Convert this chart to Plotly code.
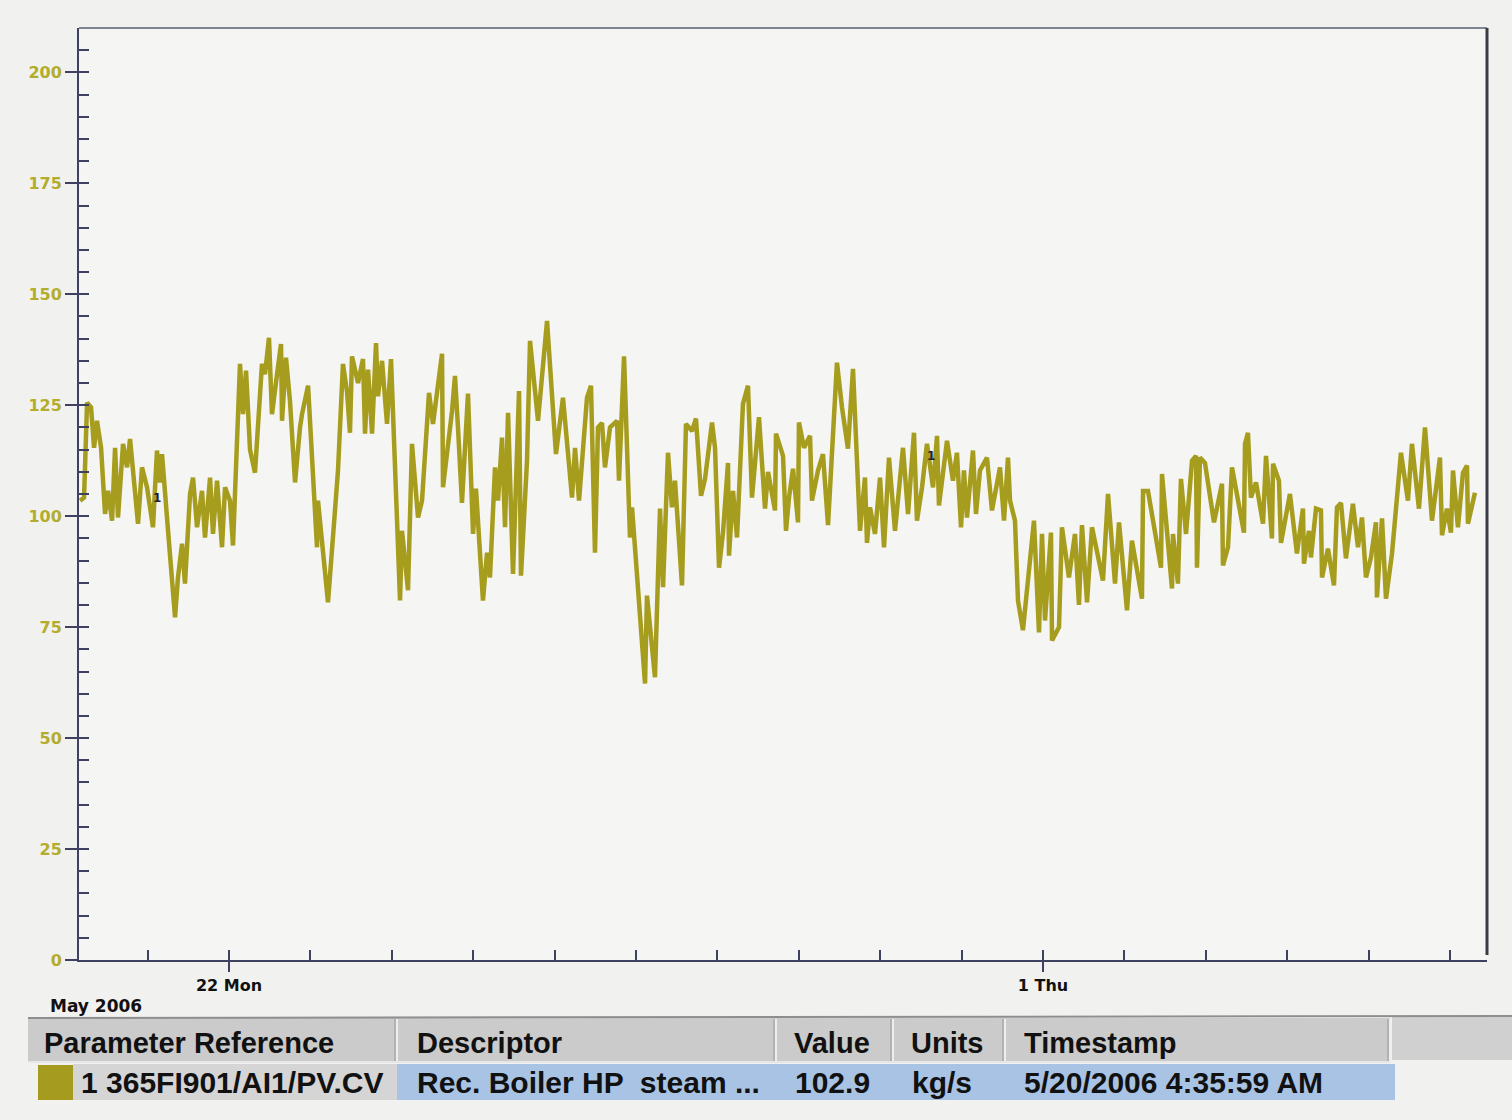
import plotly.graph_objects as go
import pandas as pd

# ---- data (days since 2006-05-20 00:00, value in kg/s) ----
days = [0.170,0.219,0.256,0.305,0.342,0.378,0.428,0.477,0.514,0.563,0.600,0.636,0.698,0.747,0.784,0.845,0.882,0.931,0.993,1.066,
        1.115,1.152,1.177,1.238,1.300,1.337,1.373,1.423,1.459,1.521,1.558,1.607,1.668,1.705,1.767,1.803,1.853,1.914,1.951,2.012,
        2.049,2.135,2.172,2.209,2.258,2.319,2.405,2.442,2.491,2.528,2.590,2.639,2.651,2.700,2.749,2.811,2.872,2.897,2.971,3.020,
        3.081,3.093,3.216,3.302,3.339,3.400,3.450,3.486,3.511,3.585,3.646,3.671,3.708,3.757,3.806,3.830,3.880,3.941,3.990,4.101,
        4.125,4.199,4.248,4.322,4.371,4.457,4.506,4.617,4.629,4.740,4.776,4.813,4.862,4.936,4.998,5.034,5.120,5.170,5.206,5.268,
        5.305,5.354,5.391,5.428,5.489,5.563,5.587,5.661,5.698,5.796,5.907,6.017,6.103,6.214,6.251,6.300,6.398,6.447,6.496,6.533,
        6.582,6.619,6.681,6.767,6.791,6.853,6.926,6.951,7.111,7.135,7.233,7.295,7.332,7.393,7.442,7.479,7.565,7.614,7.688,7.737,
        7.799,7.848,7.934,7.971,8.020,8.069,8.130,8.143,8.192,8.241,8.314,8.376,8.425,8.511,8.585,8.622,8.708,8.720,8.806,8.843,
        8.880,8.929,8.990,9.002,9.064,9.138,9.162,9.236,9.297,9.359,9.469,9.531,9.604,9.666,9.752,9.813,9.838,9.875,9.936,9.998,
        10.047,10.108,10.182,10.280,10.342,10.415,10.452,10.514,10.575,10.649,10.698,10.722,10.821,10.894,10.943,10.993,11.029,11.066,11.140,11.177,
        11.226,11.312,11.373,11.472,11.521,11.570,11.595,11.656,11.693,11.754,11.889,11.951,11.988,12.025,12.098,12.111,12.197,12.233,12.319,12.393,
        12.442,12.479,12.541,12.602,12.737,12.799,12.885,12.934,13.032,13.093,13.216,13.229,13.290,13.450,13.462,13.585,13.597,13.658,13.695,13.757,
        13.831,13.880,13.892,13.929,13.990,14.101,14.199,14.211,14.273,14.322,14.469,14.482,14.518,14.555,14.617,14.703,14.740,14.813,14.826,14.899,
        14.924,15.034,15.120,15.194,15.206,15.268,15.292,15.354,15.415,15.428,15.501,15.575,15.612,15.661,15.722,15.808,15.870,15.919,15.968,16.029,
        16.091,16.103,16.165,16.214,16.288,16.398,16.484,16.533,16.619,16.693,16.779,16.877,16.902,16.963,17.012,17.037,17.098,17.160,17.209,17.221,
        17.307]
values = [103.5,104.2,125.6,124.5,115.4,121.5,115.4,100.5,105.7,99.0,115.4,99.7,116.3,111.0,117.4,106.5,98.3,111.0,106.5,97.5,
          114.8,107.6,114.0,99.7,87.0,77.2,86.2,93.8,84.8,105.0,108.7,97.5,105.7,95.2,108.7,96.0,108.0,93.0,106.5,103.5,
          93.4,134.3,123.0,132.8,115.0,109.8,134.3,132.0,140.2,123.0,132.0,138.8,121.5,135.7,126.0,107.6,120.0,123.0,129.4,111.0,
          93.0,103.5,80.6,101.3,110.3,134.3,128.0,118.8,136.0,130.0,135.4,118.6,133.0,118.6,139.0,127.0,135.0,120.8,135.4,81.0,
          96.7,83.3,116.3,99.7,103.5,127.8,120.8,136.6,106.5,123.7,131.6,120.0,103.0,127.6,96.0,106.2,81.0,91.8,86.2,111.0,
          103.5,117.7,97.5,123.3,87.0,128.2,86.6,112.5,139.5,121.5,144.0,114.0,126.7,104.2,115.4,103.5,126.7,129.4,91.8,120.0,
          121.0,111.0,120.0,121.5,108.0,136.0,95.2,102.0,62.3,82.1,63.7,101.7,84.0,114.3,102.0,108.0,84.4,120.8,119.2,122.0,
          104.6,108.4,121.1,115.4,88.4,96.3,112.0,91.1,105.7,95.2,125.3,129.4,104.2,122.3,101.7,110.0,101.3,118.6,113.6,96.7,
          104.2,110.7,98.6,121.1,115.4,118.1,103.5,110.3,114.0,98.0,134.6,124.5,115.2,133.2,96.7,108.7,94.0,102.0,96.0,108.7,
          93.0,113.2,96.7,115.4,100.5,118.8,99.0,106.5,116.3,106.5,118.1,102.4,117.0,108.0,114.3,97.5,110.3,99.7,114.8,100.5,
          110.3,113.2,101.3,111.0,99.0,113.2,103.5,99.0,81.0,74.3,99.0,73.8,96.0,76.5,96.3,72.0,75.0,97.5,86.2,96.0,
          80.0,98.0,80.6,97.5,85.5,105.0,84.8,98.6,78.8,94.5,81.4,105.7,105.7,88.4,109.5,83.7,96.0,84.8,108.4,96.0,
          112.5,113.6,88.4,113.2,112.0,98.6,107.3,88.9,93.0,111.0,96.3,116.3,118.8,104.2,107.6,98.3,113.6,95.0,111.8,108.0,
          94.0,105.0,91.6,101.7,89.3,96.7,90.7,101.7,101.3,86.2,92.7,84.4,102.0,103.0,90.5,102.8,93.0,99.7,86.2,90.7,
          98.6,81.7,99.5,81.4,91.6,114.3,103.5,116.3,101.7,120.0,99.0,113.2,95.7,101.7,96.3,110.3,97.5,109.8,111.4,98.3,
          105.3]

y_tick_vals = [0, 25, 50, 75, 100, 125, 150, 175, 200]
x_tick_days = [2, 12]
x_tick_text = ["22 Mon", "1 Thu"]
pen_marker_days = [1.117, 10.624]
pen_marker_vals = [104.2, 113.6]

header_labels = ["Parameter Reference", "Descriptor", "Value", "Units", "Timestamp"]
row_values = ["1 365FI901/AI1/PV.CV", "Rec. Boiler HP  steam ...", "102.9", "kg/s", "5/20/2006 4:35:59 AM"]

base = pd.Timestamp("2006-05-20")
times = base + pd.to_timedelta(days, unit="D")
x_range = [base + pd.Timedelta(days=0.157), base + pd.Timedelta(days=17.455)]

LINE = "#a69c1e"
AXC = "#3e4260"
WIDE = "DejaVu Sans"
ARIAL = "Liberation Sans"

W, H = 1512, 1120
L, R, T, B = 79, 1487, 28, 960

def px(p):
    return (p - L) / (R - L)

def py(p):
    return (B - p) / (B - T)

fig = go.Figure()
fig.add_trace(go.Scatter(x=times, y=values, mode="lines",
                         line=dict(color=LINE, width=4.5), hoverinfo="skip", showlegend=False))

fig.update_layout(
    width=W, height=H,
    margin=dict(l=L, r=W - R, t=T, b=H - B),
    paper_bgcolor="#f1f1ef", plot_bgcolor="#f5f5f3",
    showlegend=False,
    xaxis=dict(range=x_range, type="date", showgrid=False, zeroline=False,
               showline=True, linecolor=AXC, linewidth=2,
               tickvals=[base + pd.Timedelta(days=d) for d in x_tick_days],
               ticktext=["<b>%s</b>" % t for t in x_tick_text],
               ticks="outside", ticklen=10, tickwidth=2, tickcolor=AXC,
               tickfont=dict(family=WIDE, size=16, color="#111111")),
    xaxis2=dict(range=x_range, type="date", overlaying="x", anchor="y", side="bottom",
                showgrid=False, zeroline=False, showline=False, showticklabels=False,
                tick0=base, dtick=86400000, ticks="inside", ticklen=10, tickwidth=2, tickcolor=AXC),
    yaxis=dict(range=[0, 210], showgrid=False, zeroline=False,
               showline=True, linecolor=AXC, linewidth=2,
               tickvals=y_tick_vals, ticktext=["<b>%d</b>" % v for v in y_tick_vals],
               ticks="outside", ticklen=12, tickwidth=2, tickcolor=AXC,
               tickfont=dict(family=WIDE, size=16, color="#b3ac2c")),
    yaxis2=dict(range=[0, 210], overlaying="y", anchor="x", side="left",
                showgrid=False, zeroline=False, showline=False, showticklabels=False,
                tick0=0, dtick=5, ticks="inside", ticklen=10, tickwidth=2, tickcolor=AXC),
)

# helper trace so overlay axes render
fig.add_trace(go.Scatter(x=[times[0]], y=[values[0]], xaxis="x2", yaxis="y2", mode="lines",
                         line=dict(width=0), opacity=0, hoverinfo="skip", showlegend=False))

shapes = []
shapes.append(dict(type="line", xref="paper", yref="paper", x0=0, x1=1, y0=1, y1=1,
                   line=dict(color="#5a5e70", width=1.5)))
shapes.append(dict(type="line", xref="paper", yref="paper", x0=1, x1=1, y0=py(955), y1=1,
                   line=dict(color="#3a3a48", width=3)))

# table header
shapes.append(dict(type="rect", xref="paper", yref="paper", x0=px(28), x1=px(1390), y0=py(1062), y1=py(1018),
                   fillcolor="#cbcbcb", line=dict(width=0), layer="above"))
shapes.append(dict(type="rect", xref="paper", yref="paper", x0=px(1392), x1=px(1512), y0=py(1060), y1=py(1016),
                   fillcolor="#d0d0d0", line=dict(width=0), layer="above"))
shapes.append(dict(type="line", xref="paper", yref="paper", x0=px(28), x1=px(1512), y0=py(1018), y1=py(1016),
                   line=dict(color="#8e8e8e", width=2), layer="above"))
for sx in [397, 776, 893, 1005, 1390]:
    shapes.append(dict(type="line", xref="paper", yref="paper", x0=px(sx), x1=px(sx), y0=py(1062), y1=py(1019),
                       line=dict(color="#eeeeee", width=2), layer="above"))
    shapes.append(dict(type="line", xref="paper", yref="paper", x0=px(sx - 2), x1=px(sx - 2), y0=py(1062), y1=py(1019),
                       line=dict(color="#9a9a9a", width=1), layer="above"))
shapes.append(dict(type="line", xref="paper", yref="paper", x0=px(28), x1=px(1390), y0=py(1062), y1=py(1062),
                   line=dict(color="#e6e6e6", width=2), layer="above"))
# data row
shapes.append(dict(type="rect", xref="paper", yref="paper", x0=px(73), x1=px(397), y0=py(1100), y1=py(1064),
                   fillcolor="#d5d5d5", line=dict(width=0), layer="above"))
shapes.append(dict(type="rect", xref="paper", yref="paper", x0=px(397), x1=px(1395), y0=py(1100), y1=py(1064),
                   fillcolor="#a9c3e4", line=dict(width=0), layer="above"))
shapes.append(dict(type="rect", xref="paper", yref="paper", x0=px(38), x1=px(73), y0=py(1100), y1=py(1065),
                   fillcolor="#a59b1e", line=dict(width=0), layer="above"))
fig.update_layout(shapes=shapes)

ann = []
ann.append(dict(text="<b>May 2006</b>", xref="paper", yref="paper", x=px(48), y=py(1006), xanchor="left", yanchor="middle",
                showarrow=False, font=dict(family=WIDE, size=17, color="#111111")))
header_x = [42, 415, 792, 909, 1022]
for hx, lab in zip(header_x, header_labels):
    ann.append(dict(text="<b>%s</b>" % lab, xref="paper", yref="paper", x=px(hx), y=py(1043), xanchor="left",
                    yanchor="middle", showarrow=False, font=dict(family=ARIAL, size=29, color="#111111")))
row_x = [79, 415, 793, 910, 1022]
for rx, val in zip(row_x, row_values):
    ann.append(dict(text="<b>%s</b>" % val, xref="paper", yref="paper", x=px(rx), y=py(1082), xanchor="left",
                    yanchor="middle", showarrow=False, font=dict(family=ARIAL, size=30, color="#111111")))
for d, v in zip(pen_marker_days, pen_marker_vals):
    ann.append(dict(text="<b>1</b>", x=base + pd.Timedelta(days=d), y=v, xref="x", yref="y", showarrow=False,
                    font=dict(family=WIDE, size=12, color="#222222")))
fig.update_layout(annotations=ann)

fig.write_html("out.html", config={"displayModeBar": False},
               post_script="document.body.style.margin='0';")
